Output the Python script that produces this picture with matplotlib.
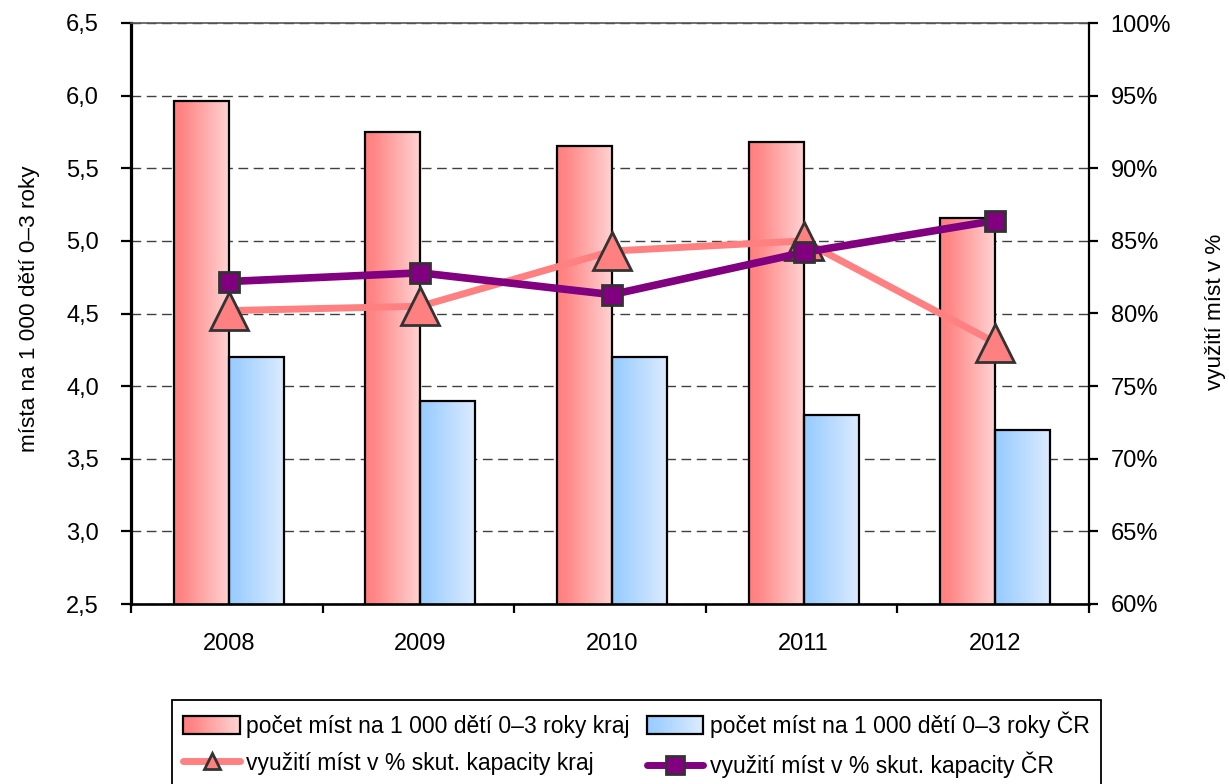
import numpy as np
import matplotlib
matplotlib.use("Agg")
import matplotlib.pyplot as plt
from matplotlib.colors import LinearSegmentedColormap
from matplotlib.legend_handler import HandlerBase
from matplotlib.patches import Rectangle, Patch
from matplotlib.lines import Line2D

plt.rcParams['font.family'] = ['Liberation Sans', 'DejaVu Sans']

# data
years = ['2008', '2009', '2010', '2011', '2012']
mista_kraj = [5.96, 5.75, 5.65, 5.68, 5.16]
mista_cr = [4.2, 3.9, 4.2, 3.8, 3.7]
vyuziti_kraj = [80.2, 80.5, 84.3, 85.0, 78.0]
vyuziti_cr = [82.2, 82.8, 81.3, 84.2, 86.4]

lbl_mista_kraj = 'počet míst na 1 000 dětí 0–3 roky kraj'
lbl_mista_cr = 'počet míst na 1 000 dětí 0–3 roky ČR'
lbl_vyuz_kraj = 'využití míst v % skut. kapacity kraj'
lbl_vyuz_cr = 'využití míst v % skut. kapacity ČR'

cmap_kraj = LinearSegmentedColormap.from_list('kraj', [(0, '#FF8080'), (0.15, '#FF8585'), (1, '#FFD2D2')])
cmap_cr = LinearSegmentedColormap.from_list('cr', [(0, '#99CCFF'), (0.15, '#9FCFFF'), (1, '#DCEBFF')])

FS = 17


class GradientHandler(HandlerBase):
    def __init__(self, cmap):
        super().__init__()
        self.cmap = cmap

    def create_artists(self, legend, orig_handle, xdescent, ydescent, width, height, fontsize, trans):
        n = 40
        arts = []
        for k in range(n):
            arts.append(Rectangle((-xdescent + width * k / n, -ydescent), width / n + 0.3, height,
                                  facecolor=self.cmap(k / (n - 1)), edgecolor='none', transform=trans))
        arts.append(Rectangle((-xdescent, -ydescent), width, height, facecolor='none',
                              edgecolor='black', lw=1.6, transform=trans))
        return arts


fig = plt.figure(figsize=(12.29, 7.84), dpi=100)
ax = fig.add_axes([131 / 1229, 1 - 604 / 784, 958 / 1229, 581 / 784])

x = np.arange(len(years))
w = 0.287

bars_kraj = ax.bar(x - w / 2 + 0.01, mista_kraj, w, facecolor='none', edgecolor='black', lw=1.6, zorder=3)
bars_cr = ax.bar(x + w / 2 + 0.01, mista_cr, w, facecolor='none', edgecolor='black', lw=1.6, zorder=3)

ymin, ymax = 2.5, 6.5
grad = np.linspace(0, 1, 256).reshape(1, -1)
for bars, cm in ((bars_kraj, cmap_kraj), (bars_cr, cmap_cr)):
    for p in bars.patches:
        x0 = p.get_x()
        y1 = p.get_y() + p.get_height()
        im = ax.imshow(grad, extent=(x0, x0 + p.get_width(), ymin, y1),
                       aspect='auto', cmap=cm, interpolation='bicubic', zorder=2)
        im.set_clip_path(p)

ax.set_xlim(-0.5, len(years) - 0.5)
ax.set_ylim(ymin, ymax)
ax.set_yticks(np.arange(2.5, 6.51, 0.5))
ax.set_yticklabels([f'{v:.1f}'.replace('.', ',') for v in np.arange(2.5, 6.51, 0.5)])
ax.set_xticks(np.arange(-0.5, len(years), 1.0))
ax.set_xticklabels([])
ax.set_xticks(x + 0.01, minor=True)
ax.set_xticklabels(years, minor=True)
ax.tick_params(axis='x', which='major', direction='out', length=6.5, width=1.6, color='black')
ax.tick_params(axis='x', which='minor', length=0, pad=21, labelsize=FS)
ax.tick_params(axis='y', direction='out', length=7, width=1.6, pad=16, labelsize=FS)

ax.set_axisbelow(True)
ax.yaxis.grid(True, linestyle=(0, (7, 4)), color='#404040', lw=1.0)

ax.spines['left'].set_linewidth(2.3)
ax.spines['bottom'].set_linewidth(1.9)
ax.spines['top'].set_linewidth(1.2)
ax.spines['top'].set_color('#555555')
ax.spines['right'].set_visible(False)

ax2 = ax.twinx()
ax2.plot(x + 0.01, vyuziti_kraj, color='#FF8080', lw=5, marker='^', ms=28, mfc='#FF8080',
         mec='#333333', mew=2, zorder=3)
ax2.plot(x + 0.01, vyuziti_cr, color='#800080', lw=5.5, marker='s', ms=15, mfc='#800080',
         mec='#333333', mew=2, zorder=4)
ax2.set_ylim(60, 100)
ax2.set_yticks(np.arange(60, 101, 5))
ax2.set_yticklabels([f'{v}%' for v in range(60, 101, 5)])
ax2.tick_params(axis='y', direction='out', length=6.5, width=1.6, pad=9, labelsize=FS)
for s in ('left', 'top', 'bottom'):
    ax2.spines[s].set_visible(False)
ax2.spines['right'].set_linewidth(1.6)

fig.text(30 / 1229, 1 - 309 / 784, 'místa na 1 000 dětí 0–3 roky', rotation=90,
         ha='center', va='center', fontsize=16.2)
fig.text(1216 / 1229, 1 - 312 / 784, 'využití míst v %', rotation=90,
         ha='center', va='center', fontsize=16.2)

h_kraj = Patch()
h_cr = Patch()
h_lkraj = Line2D([], [], color='#FF8080', lw=5, marker='^', ms=11.5, mfc='#FF8080',
                 mec='#333333', mew=2, solid_capstyle='round')
h_lcr = Line2D([], [], color='#800080', lw=5, marker='s', ms=12.5, mfc='#800080',
               mec='#333333', mew=2, solid_capstyle='round')

leg = fig.legend(handles=[h_kraj, h_lkraj, h_cr, h_lcr],
                 labels=[lbl_mista_kraj, lbl_vyuz_kraj, lbl_mista_cr, lbl_vyuz_cr],
                 ncol=2, loc='upper left', bbox_to_anchor=(172 / 1229, 1 - 700 / 784),
                 fontsize=16.5, frameon=True, fancybox=False, edgecolor='black', framealpha=1,
                 handlelength=2.45, handleheight=0.85, handletextpad=0.3, columnspacing=0.75,
                 labelspacing=0.6, borderpad=0.5, borderaxespad=0,
                 handler_map={h_kraj: GradientHandler(cmap_kraj), h_cr: GradientHandler(cmap_cr)})
leg.get_frame().set_linewidth(1.3)

fig.savefig('out.png', dpi=100)
